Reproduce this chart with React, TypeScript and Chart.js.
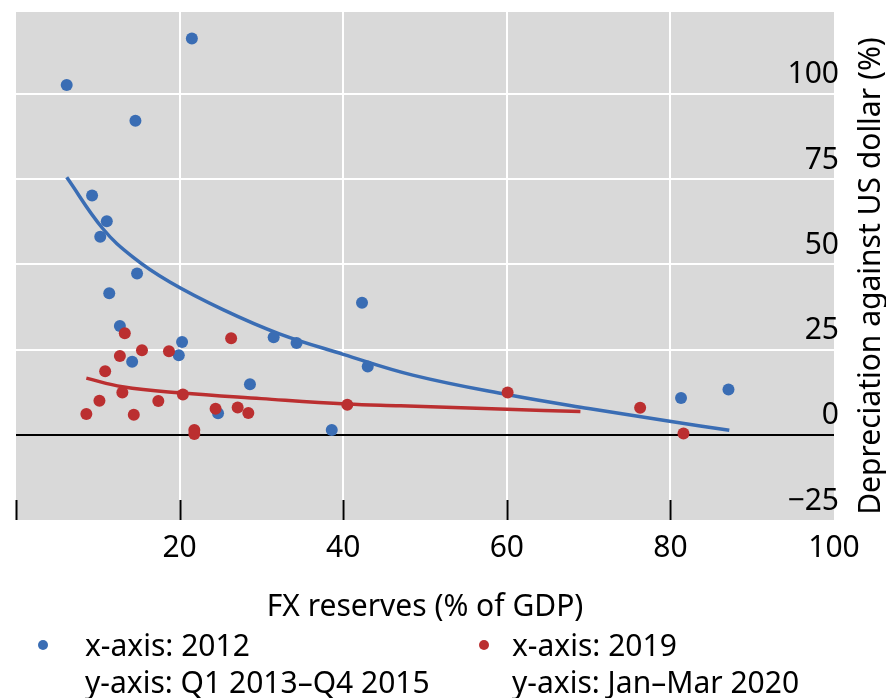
import { useEffect, useRef } from 'react';
import { Chart, registerables } from 'chart.js';

Chart.register(...registerables);

const FONT = "'Noto Sans', 'Open Sans', sans-serif";
const FONT_SIZE = 30;

const xTicks = [0, 20, 40, 60, 80, 100];
const yTicks = [-25, 0, 25, 50, 75, 100];

const xTitle = 'FX reserves (% of GDP)';
const yTitle = 'Depreciation against US dollar (%)';

const label2012 = ['x-axis: 2012', 'y-axis: Q1 2013–Q4 2015'];
const label2019 = ['x-axis: 2019', 'y-axis: Jan–Mar 2020'];

const blueX = [21.5, 6.2, 14.6, 9.3, 11.1, 10.3, 14.8, 11.4, 12.7, 20.3, 31.5, 34.3, 42.3, 19.9, 14.2, 43.0, 28.6, 24.7, 38.6, 81.3, 87.1];
const blueY = [116.2, 102.6, 92.1, 70.2, 62.6, 58.1, 47.3, 41.5, 31.9, 27.2, 28.6, 26.9, 38.7, 23.3, 21.4, 20.0, 14.8, 6.3, 1.4, 10.8, 13.3];

const redX = [13.3, 26.3, 12.7, 15.4, 18.7, 10.9, 13.0, 20.4, 10.2, 17.4, 8.6, 14.4, 24.4, 27.1, 28.4, 40.5, 21.8, 21.8, 60.1, 76.3, 81.6];
const redY = [29.8, 28.3, 23.1, 24.8, 24.5, 18.6, 12.4, 11.8, 10.0, 9.9, 6.1, 5.9, 7.6, 8.0, 6.4, 8.8, 1.4, 0.2, 12.4, 7.9, 0.4];

const blueFitX = [6.2, 10.6, 14.3, 18.8, 25.3, 32.2, 40.0, 48.5, 60.0, 70.0, 80.1, 87.2];
const blueFitY = [75.5, 60.5, 52.1, 44.8, 36.7, 29.6, 23.6, 17.5, 11.8, 7.7, 3.9, 1.3];

const redFitX = [8.6, 13.0, 20.0, 30.0, 40.4, 47.0, 60.0, 69.0];
const redFitY = [16.6, 14.1, 12.3, 10.6, 9.0, 8.5, 7.5, 6.8];

const BLUE = '#3a6db4';
const RED = '#bb2f30';
const PLOT_BG = '#d9d9d9';

const pts = (xs: number[], ys: number[]) => xs.map((x, i) => ({ x, y: ys[i] }));

const decor = {
  id: 'decor',
  beforeDraw(chart: any) {
    const { ctx, chartArea: a } = chart;
    ctx.save();
    ctx.fillStyle = PLOT_BG;
    ctx.fillRect(a.left, a.top, a.right - a.left, a.bottom - a.top);
    ctx.restore();
  },
  beforeDatasetsDraw(chart: any) {
    const { ctx, chartArea: a } = chart;
    const xs = chart.scales.x;
    ctx.save();
    ctx.strokeStyle = '#000';
    ctx.lineWidth = 2;
    xTicks.filter((v) => v < xs.max).forEach((v) => {
      const px = Math.round(xs.getPixelForValue(v)) + 0.5;
      ctx.beginPath();
      ctx.moveTo(px, a.bottom);
      ctx.lineTo(px, a.bottom - 20);
      ctx.stroke();
    });
    ctx.restore();
  },
  afterDraw(chart: any) {
    const { ctx, chartArea: a } = chart;
    ctx.save();
    ctx.fillStyle = '#000';
    ctx.font = `${FONT_SIZE}px ${FONT}`;
    // y-axis title, reading bottom to top
    ctx.save();
    ctx.translate(a.right + 46, (a.top + a.bottom) / 2 + 10);
    ctx.rotate(-Math.PI / 2);
    ctx.textAlign = 'center';
    ctx.textBaseline = 'alphabetic';
    ctx.fillText(yTitle, 0, 0);
    ctx.restore();
    // legend
    const items = [
      { color: BLUE, lines: label2012, dotX: 43, textX: 85 },
      { color: RED, lines: label2019, dotX: 484, textX: 512 },
    ];
    const base = 656;
    items.forEach((it) => {
      ctx.fillStyle = it.color;
      ctx.beginPath();
      ctx.arc(it.dotX, base - 11, 5, 0, Math.PI * 2);
      ctx.fill();
      ctx.fillStyle = '#000';
      ctx.textAlign = 'left';
      ctx.textBaseline = 'alphabetic';
      it.lines.forEach((t, i) => ctx.fillText(t, it.textX, base + i * 37));
    });
    ctx.restore();
  },
};

export default function App() {
  const ref = useRef<HTMLCanvasElement | null>(null);
  useEffect(() => {
    if (!ref.current) return;
    const font = { family: FONT, size: FONT_SIZE };
    const chart = new Chart(ref.current, {
      type: 'scatter',
      data: {
        datasets: [
          {
            label: label2019.join(' '),
            data: pts(redX, redY),
            backgroundColor: RED,
            borderWidth: 0,
            pointRadius: 6,
            order: 0,
          },
          {
            label: label2012.join(' '),
            data: pts(blueX, blueY),
            backgroundColor: BLUE,
            borderWidth: 0,
            pointRadius: 6,
            order: 1,
          },
          {
            label: 'fit 2012',
            data: pts(blueFitX, blueFitY),
            showLine: true,
            borderColor: BLUE,
            borderWidth: 3.5,
            pointRadius: 0,
            tension: 0.4,
            order: 2,
          },
          {
            label: 'fit 2019',
            data: pts(redFitX, redFitY),
            showLine: true,
            borderColor: RED,
            borderWidth: 3.5,
            pointRadius: 0,
            tension: 0.4,
            order: 3,
          },
        ],
      } as any,
      options: {
        animation: false,
        responsive: true,
        maintainAspectRatio: false,
        layout: { padding: { left: 16, top: 12, right: 52, bottom: 73 } },
        plugins: { legend: { display: false }, tooltip: { enabled: false } },
        scales: {
          x: {
            type: 'linear',
            position: 'bottom',
            min: 0,
            max: 100,
            afterBuildTicks: (s: any) => {
              s.ticks = xTicks.map((value) => ({ value }));
            },
            ticks: {
              autoSkip: false,
              maxRotation: 0,
              padding: 10,
              color: '#000',
              font,
              callback: (v: any) => (v === 0 ? '' : String(v)),
            },
            grid: {
              drawTicks: false,
              lineWidth: 2,
              color: (c: any) => (c.tick && (c.tick.value === 0 || c.tick.value === 100) ? 'rgba(0,0,0,0)' : '#ffffff'),
            },
            border: { display: false },
            title: {
              display: true,
              text: xTitle,
              color: '#000',
              font,
              padding: { top: 13, bottom: 0 },
            },
          },
          y: {
            type: 'linear',
            position: 'right',
            min: -25,
            max: 124,
            afterBuildTicks: (s: any) => {
              s.ticks = yTicks.map((value) => ({ value }));
            },
            afterFit: (s: any) => {
              s.width = 0;
              s.paddingTop = 0;
              s.paddingBottom = 0;
            },
            ticks: {
              mirror: true,
              padding: 5,
              labelOffset: -19,
              color: '#000',
              font,
              callback: (v: any) => (v < 0 ? '−' + String(Math.abs(v)) : String(v)),
            },
            grid: {
              drawTicks: false,
              lineWidth: 2,
              color: (c: any) =>
                c.tick && c.tick.value === 0 ? '#000000' : c.tick && c.tick.value === -25 ? 'rgba(0,0,0,0)' : '#ffffff',
            },
            border: { display: false },
          },
        },
      } as any,
      plugins: [decor],
    });
    return () => chart.destroy();
  }, []);
  return (
    <div style={{ position: 'absolute', left: 0, top: 0, width: 886, height: 698 }}>
      <canvas ref={ref} />
    </div>
  );
}
